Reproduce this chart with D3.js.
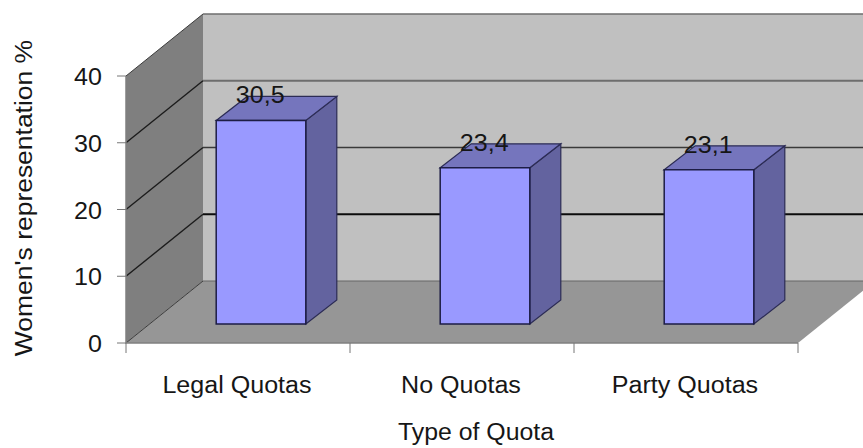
<!DOCTYPE html>
<html>
<head>
<meta charset="utf-8">
<script src="https://cdn.jsdelivr.net/npm/d3@7"></script>
<style>
html,body{margin:0;padding:0;background:#fff;overflow:hidden}
text{font-family:"Liberation Sans",Arial,sans-serif;fill:#161616}
</style>
</head>
<body>
<svg id="chart" width="863" height="448"></svg>
<script>
const categories = ["Legal Quotas", "No Quotas", "Party Quotas"];
const shareValues = [30.5, 23.4, 23.1];
const shareLabels = ["30,5", "23,4", "23,1"];
const yTicks = [0, 10, 20, 30, 40];

const width = 863, height = 448;
const svg = d3.select("#chart");

// Chart box: front plane plus the oblique offset to the back wall
const plot = {left: 126, right: 798, bottom: 343, top: 76};
const wallDepth = {dx: 77, dy: -62};
const barDepth = {dx: 31, dy: -24};
const barInset = {dx: 23, dy: -19};

const x = d3.scaleBand().domain(categories).range([plot.left, plot.right]).paddingInner(0.6).paddingOuter(0.3);
const y = d3.scaleLinear().domain([0, 40]).range([plot.bottom, plot.top]);

const poly = pts => "M" + pts.map(p => p.join(",")).join("L") + "Z";
const clipRight = width;

// Wide-set lettering: glyphs are stretched out to a set run length
const FONT = 23;
function label(sel, str, widen = 1.09) {
  sel.attr("font-size", FONT).text(str);
  const run = sel.node().getComputedTextLength();
  sel.attr("textLength", run * widen).attr("lengthAdjust", "spacingAndGlyphs");
  return sel;
}

// Back wall
svg.append("path")
  .attr("d", poly([
    [plot.left + wallDepth.dx, y(40) + wallDepth.dy],
    [clipRight, y(40) + wallDepth.dy],
    [clipRight, y(0) + wallDepth.dy],
    [plot.left + wallDepth.dx, y(0) + wallDepth.dy]]))
  .attr("fill", "#c0c0c0");

// Side wall
svg.append("path")
  .attr("d", poly([
    [plot.left, y(40)],
    [plot.left + wallDepth.dx, y(40) + wallDepth.dy],
    [plot.left + wallDepth.dx, y(0) + wallDepth.dy],
    [plot.left, y(0)]]))
  .attr("fill", "#7f7f7f");

// Floor
svg.append("path")
  .attr("d", poly([
    [plot.left, y(0)],
    [plot.left + wallDepth.dx, y(0) + wallDepth.dy],
    [plot.right + wallDepth.dx, y(0) + wallDepth.dy],
    [plot.right, y(0)]]))
  .attr("fill", "#969696");

// Gridlines run along the side wall and across the back wall
const backStyle = {0: ["#666", 1.2], 10: ["#0c0c0c", 2], 20: ["#3a3a3a", 1.5], 30: ["#6e6e6e", 2], 40: ["#6e6e6e", 1.5]};
const sideStyle = {0: ["#3c3c3c", 1], 10: ["#1c1c1c", 1.4], 20: ["#1c1c1c", 1.4], 30: ["#1c1c1c", 1.4], 40: ["#3c3c3c", 1]};
const grid = svg.append("g").attr("fill", "none");
yTicks.forEach(t => {
  grid.append("path")
    .attr("d", d3.line()([[plot.left, y(t)], [plot.left + wallDepth.dx, y(t) + wallDepth.dy]]))
    .attr("stroke", sideStyle[t][0]).attr("stroke-width", sideStyle[t][1]);
  grid.append("path")
    .attr("d", d3.line()([[plot.left + wallDepth.dx, y(t) + wallDepth.dy], [clipRight, y(t) + wallDepth.dy]]))
    .attr("stroke", backStyle[t][0]).attr("stroke-width", backStyle[t][1]);
});

// Axes
svg.append("path")
  .attr("d", d3.line()([[plot.left, plot.top], [plot.left, plot.bottom], [plot.right, plot.bottom]]))
  .attr("fill", "none").attr("stroke", "#808080").attr("stroke-width", 1.5);

const yAxis = svg.append("g");
yTicks.forEach(t => {
  yAxis.append("line")
    .attr("x1", plot.left - 9).attr("x2", plot.left)
    .attr("y1", y(t)).attr("y2", y(t))
    .attr("stroke", "#777");
  yAxis.append("text")
    .attr("x", plot.left - 24).attr("y", y(t) + 9)
    .attr("text-anchor", "end")
    .call(label, String(t));
});

const xTickPositions = d3.range(categories.length + 1).map(i => plot.left + i * x.step());
svg.append("g").selectAll("line").data(xTickPositions).join("line")
  .attr("x1", d => d).attr("x2", d => d)
  .attr("y1", plot.bottom).attr("y2", plot.bottom + 10)
  .attr("stroke", "#777");

// Bars: right face, top face, then the front face
const bars = svg.append("g").selectAll("g").data(categories).join("g");
const face = (i) => {
  const x0 = x(categories[i]) + barInset.dx;
  const x1 = x0 + x.bandwidth();
  const base = y(0) + barInset.dy;
  const top = y(shareValues[i]) + barInset.dy;
  return {x0, x1, base, top};
};
bars.append("path")
  .attr("d", (d, i) => {
    const f = face(i);
    return poly([[f.x1, f.top], [f.x1 + barDepth.dx, f.top + barDepth.dy],
                 [f.x1 + barDepth.dx, f.base + barDepth.dy], [f.x1, f.base]]);
  })
  .attr("fill", "#63639f").attr("stroke", "#2c2c55").attr("stroke-width", 1.2);
bars.append("path")
  .attr("d", (d, i) => {
    const f = face(i);
    return poly([[f.x0, f.top], [f.x0 + barDepth.dx, f.top + barDepth.dy],
                 [f.x1 + barDepth.dx, f.top + barDepth.dy], [f.x1, f.top]]);
  })
  .attr("fill", "#7575bd").attr("stroke", "#2c2c55").attr("stroke-width", 1.2);
bars.append("path")
  .attr("d", (d, i) => {
    const f = face(i);
    return poly([[f.x0, f.top], [f.x1, f.top], [f.x1, f.base], [f.x0, f.base]]);
  })
  .attr("fill", "#9999ff").attr("stroke", "#1d1d45").attr("stroke-width", 1.5);

// Value labels sit over the back edge of each bar's top face
bars.append("text")
  .attr("x", (d, i) => face(i).x0 + 44)
  .attr("y", (d, i) => face(i).top + barDepth.dy + 7)
  .attr("text-anchor", "middle")
  .each(function (d, i) { label(d3.select(this), shareLabels[i]); });

// Category labels and axis titles
svg.append("g").selectAll("text").data(categories).join("text")
  .attr("x", d => x(d) + x.bandwidth() / 2 - 1)
  .attr("y", 393)
  .attr("text-anchor", "middle")
  .each(function (d) { label(d3.select(this), d); });

svg.append("text").attr("x", 476).attr("y", 440)
  .attr("text-anchor", "middle")
  .call(label, "Type of Quota", 1.08);

svg.append("text")
  .attr("transform", "translate(32,198) rotate(-90)")
  .attr("text-anchor", "middle")
  .call(label, "Women's representation %", 1.15);
</script>
</body>
</html>
